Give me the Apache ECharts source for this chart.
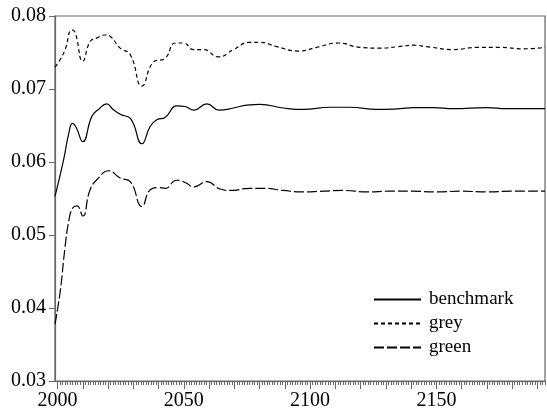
<!DOCTYPE html>
<html><head><meta charset="utf-8">
<script src="https://cdn.jsdelivr.net/npm/echarts@6/dist/echarts.min.js"></script>
<style>html,body{margin:0;padding:0;background:#fff}#c{width:547px;height:416px}</style>
</head><body><div id="c"></div>
<script>
var benchYears = [1999, 2002.4, 2004.5, 2005.9, 2007.3, 2010, 2013.6, 2016.2, 2019.5, 2022, 2025, 2029, 2033.4, 2036.7, 2039.3, 2042.6, 2047.2, 2050.5, 2054, 2059.1, 2064, 2069.7, 2075, 2080.2, 2089.4, 2097.3, 2107.9, 2115.8, 2126.4, 2135.6, 2140.9, 2148.8, 2156.7, 2169.9, 2177.8, 2193];
var benchVals  = [0.0553, 0.0603, 0.0640, 0.0653, 0.0648, 0.0628, 0.06625, 0.0672, 0.06795, 0.0672, 0.0665, 0.0659, 0.0625, 0.0649, 0.0658, 0.0661, 0.0677, 0.0676, 0.0671, 0.06795, 0.0671, 0.0674, 0.0678, 0.0679, 0.0674, 0.0672, 0.0675, 0.0675, 0.0672, 0.0673, 0.06744, 0.06744, 0.0673, 0.06744, 0.0673, 0.0673];

var greyYears = [1999, 2001, 2003, 2005.7, 2007, 2010, 2012.9, 2015.6, 2018.9, 2020.9, 2024.8, 2028.8, 2033.4, 2038, 2042.6, 2046.6, 2049.9, 2053.9, 2057.8, 2063.7, 2069.7, 2076.2, 2080.2, 2086.8, 2095.4, 2102.6, 2111.2, 2119.8, 2127.7, 2134.9, 2140.9, 2146.2, 2156.7, 2166, 2175.2, 2184.4, 2193];
var greyVals  = [0.0730, 0.0740, 0.0754, 0.0781, 0.0777, 0.0738, 0.0765, 0.0770, 0.0774, 0.0772, 0.0756, 0.0747, 0.0704, 0.0737, 0.0742, 0.0763, 0.0763, 0.0754, 0.0754, 0.0744, 0.0754, 0.0764, 0.0764, 0.0758, 0.0752, 0.0757, 0.0763, 0.0757, 0.0756, 0.0758, 0.0760, 0.0758, 0.0754, 0.0757, 0.0757, 0.0755, 0.0757];

var greenYears = [1999, 2001, 2003, 2004.5, 2006, 2007.7, 2010, 2012.9, 2016.2, 2020.2, 2024.8, 2028.8, 2033.4, 2036.7, 2040, 2042.6, 2047.2, 2050.5, 2054, 2059.1, 2064.4, 2068.4, 2076.2, 2081.4, 2089.4, 2096.7, 2105.2, 2113.1, 2122.4, 2131.6, 2140, 2150, 2160, 2170, 2180, 2193];
var greenVals  = [0.0378, 0.0421, 0.0484, 0.0520, 0.0537, 0.0540, 0.0526, 0.0562, 0.0578, 0.0588, 0.0578, 0.0573, 0.0539, 0.0562, 0.0565, 0.0564, 0.0575, 0.0572, 0.0566, 0.0573, 0.0563, 0.0561, 0.0564, 0.0564, 0.0561, 0.0559, 0.0560, 0.0561, 0.0559, 0.0560, 0.0560, 0.0559, 0.0560, 0.0559, 0.0560, 0.0560];

var seriesNames = ['benchmark', 'grey', 'green'];
var xLabelValues = [2000, 2050, 2100, 2150];

var X_MIN = 1999, X_MAX = 2193;
var minorTickVals = [], majorTickVals = [];
for (var y = 2000; y <= X_MAX; y++) { minorTickVals.push(y); if (y % 10 === 0) majorTickVals.push(y); }

function pairs(xs, ys) { return xs.map(function (x, i) { return [x, ys[i]]; }); }

var FONT = 'Liberation Serif';
var AX = '#666';
var chart = echarts.init(document.getElementById('c'), null, {renderer: 'canvas'});
chart.setOption({
  animation: false,
  backgroundColor: '#fff',
  grid: {left: 55, right: 2, top: 16, bottom: 35, show: true, borderColor: AX, borderWidth: 1.2, containLabel: false},
  legend: {
    orient: 'vertical', left: 368, top: 285,
    itemWidth: 47, itemHeight: 14, itemGap: 5,
    itemStyle: {opacity: 0},
    data: seriesNames,
    textStyle: {fontFamily: FONT, fontSize: 19, color: '#000', padding: [0, 0, 0, 3]}
  },
  xAxis: [{
    type: 'value', min: X_MIN, max: X_MAX, position: 'bottom',
    axisLine: {show: true, lineStyle: {color: AX, width: 1.2}},
    axisTick: {show: true, customValues: minorTickVals, length: 4, lineStyle: {color: AX, width: 1}},
    axisLabel: {customValues: xLabelValues, fontFamily: FONT, fontSize: 20, color: '#000', margin: 10, formatter: function (v) { return String(v); }},
    splitLine: {show: false}
  }, {
    type: 'value', min: X_MIN, max: X_MAX, position: 'bottom', offset: 0,
    axisLine: {show: false},
    axisTick: {show: true, customValues: majorTickVals, length: 8, lineStyle: {color: AX, width: 1}},
    axisLabel: {show: false},
    splitLine: {show: false}
  }],
  yAxis: {
    type: 'value', min: 0.03, max: 0.08, interval: 0.01,
    axisLine: {show: true, lineStyle: {color: AX, width: 1.2}},
    axisTick: {show: true, length: 6, lineStyle: {color: AX, width: 1}},
    axisLabel: {fontFamily: FONT, fontSize: 20, color: '#000', margin: 9, formatter: function (v) { return v.toFixed(2); }},
    splitLine: {show: false}
  },
  series: [
    {name: seriesNames[0], type: 'line', data: pairs(benchYears, benchVals), showSymbol: false, symbol: 'none', smooth: 0.5,
     lineStyle: {color: '#000', width: 1.2, type: 'solid'}, itemStyle: {color: '#000'}},
    {name: seriesNames[1], type: 'line', data: pairs(greyYears, greyVals), showSymbol: false, symbol: 'none', smooth: 0.5,
     lineStyle: {color: '#000', width: 1.2, type: [4, 3]}, itemStyle: {color: '#000'}},
    {name: seriesNames[2], type: 'line', data: pairs(greenYears, greenVals), showSymbol: false, symbol: 'none', smooth: 0.5,
     lineStyle: {color: '#000', width: 1.2, type: [10, 3]}, itemStyle: {color: '#000'}}
  ]
});
</script></body></html>
